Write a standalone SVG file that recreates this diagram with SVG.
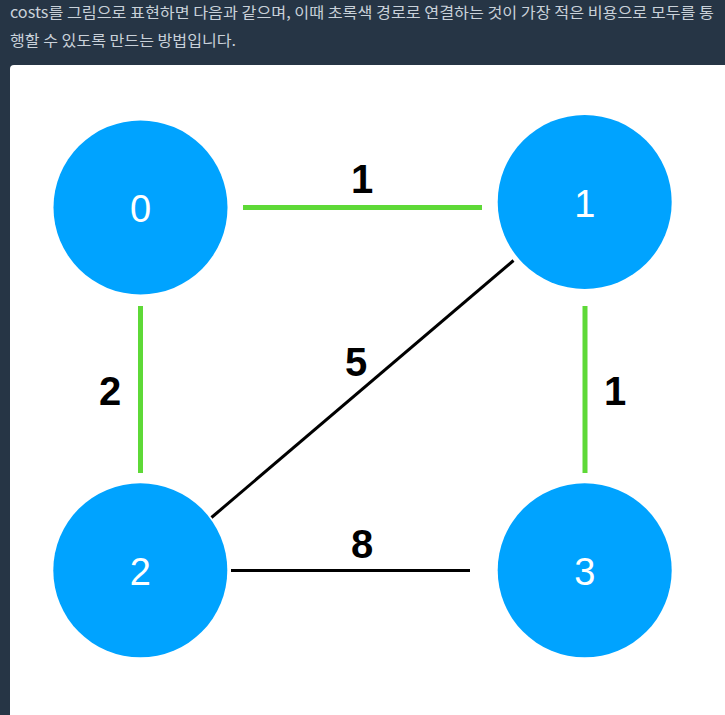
<svg xmlns="http://www.w3.org/2000/svg" width="725" height="715" viewBox="0 0 725 715">
<style>
.hdr{font-family:"Noto Sans CJK KR","Noto Sans",sans-serif;font-size:15px;fill:#c9d1d9}
.node circle{fill:#00a3ff}
.node text{font-family:"Liberation Sans",Arial,sans-serif;font-size:38px;fill:#ffffff;text-anchor:middle}
.green{stroke:#5ed937;stroke-width:5;fill:none}
.black{stroke:#000000;stroke-width:3;fill:none}
.lbl{font-family:"Liberation Sans",Arial,sans-serif;font-size:40px;font-weight:bold;fill:#000000;text-anchor:middle}
</style>
<rect x="0" y="0" width="725" height="715" fill="#263545"/>
<text class="hdr" x="10" y="17.5" textLength="704" lengthAdjust="spacingAndGlyphs">costs를 그림으로 표현하면 다음과 같으며, 이때 초록색 경로로 연결하는 것이 가장 적은 비용으로 모두를 통</text>
<text class="hdr" x="10" y="45.5" textLength="226" lengthAdjust="spacingAndGlyphs">행할 수 있도록 만드는 방법입니다.</text>
<rect x="10" y="65" width="730" height="670" rx="4" fill="#ffffff"/>
<g id="connectors">
<line class="green" x1="243" y1="207.5" x2="482" y2="207.5"/>
<line class="green" x1="140.5" y1="306" x2="140.5" y2="473"/>
<line class="green" x1="585" y1="306" x2="585" y2="473"/>
<line class="black" x1="513.5" y1="260.5" x2="211.5" y2="517.5"/>
<line class="black" x1="231" y1="570.5" x2="470" y2="570.5"/>
<text class="lbl" x="362" y="193">1</text>
<text class="lbl" x="110" y="405">2</text>
<text class="lbl" x="615" y="405">1</text>
<text class="lbl" x="356" y="376">5</text>
<text class="lbl" x="362" y="558">8</text>
</g>
<g id="node0" class="node"><circle cx="140.5" cy="207.5" r="87"/><text x="140.5" y="222">0</text></g>
<g id="node1" class="node"><circle cx="584.7" cy="202" r="87"/><text x="584.7" y="216.5">1</text></g>
<g id="node2" class="node"><circle cx="140.3" cy="570.3" r="87"/><text x="140.3" y="585">2</text></g>
<g id="node3" class="node"><circle cx="584.7" cy="570.3" r="87"/><text x="584.7" y="585">3</text></g>
</svg>
